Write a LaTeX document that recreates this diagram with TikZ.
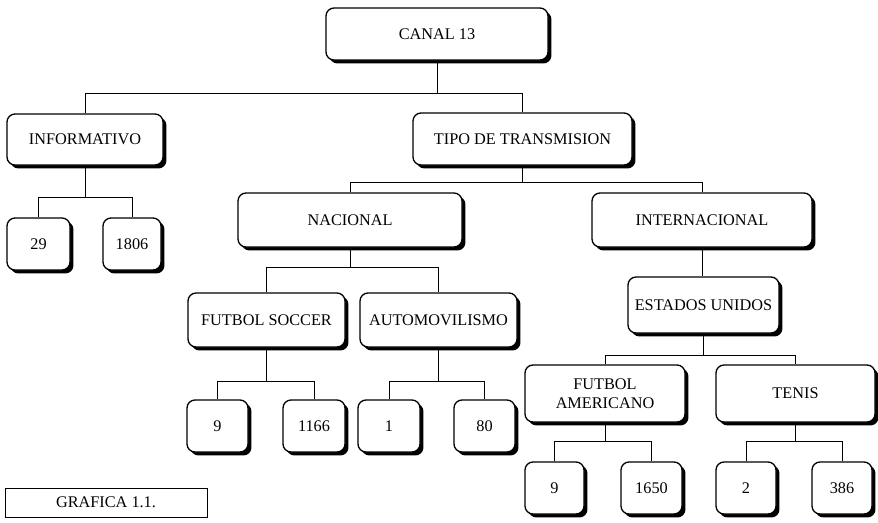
\documentclass[tikz,border=0pt]{standalone}
\usepackage{fontspec}
\setmainfont{Liberation Serif}
\usetikzlibrary{shadows}
\begin{document}
\begin{tikzpicture}[x=0.75pt,y=-0.75pt,
  box/.style={draw, line width=1pt, rounded corners=6pt, fill=white, align=center,
    inner sep=0pt, font=\fontsize{12.2}{14}\selectfont,
    drop shadow={shadow xshift=2.6pt, shadow yshift=-2.6pt, opacity=1, fill=black}},
  sz/.style 2 args={minimum width=#1*0.75pt, minimum height=#2*0.75pt},
  conn/.style={line width=0.75pt}]
\useasboundingbox (0,0) rectangle (878,522);
% level 0
\node[box, sz={222}{52}] (canal) at (437,34) {CANAL 13};
% level 1
\node[box, sz={156}{51}] (info) at (85,139.5) {INFORMATIVO};
\node[box, sz={219}{52}] (tipo) at (522.5,139) {TIPO DE TRANSMISION};
% informativo children
\node[box, sz={63}{52}] (n29) at (38.5,244) {29};
\node[box, sz={58}{52}] (n1806) at (132,244) {1806};
% tipo children
\node[box, sz={224}{54}] (nac) at (350,220) {NACIONAL};
\node[box, sz={220}{54}] (intl) at (702,220) {INTERNACIONAL};
% nacional children
\node[box, sz={157}{54}] (soc) at (266.5,320) {FUTBOL SOCCER};
\node[box, sz={157}{54}] (auto) at (438.5,320) {AUTOMOVILISMO};
% internacional child
\node[box, sz={151}{56}] (eu) at (703.5,305) {ESTADOS UNIDOS};
% estados unidos children
\node[box, sz={160}{57}] (fa) at (605,393.5) {FUTBOL\\AMERICANO};
\node[box, sz={159}{57}] (ten) at (795.5,393.5) {TENIS};
% row E
\node[box, sz={61}{52}] (s9) at (217.5,426) {9};
\node[box, sz={62}{52}] (s1166) at (314,426) {1166};
\node[box, sz={62}{52}] (a1) at (389,426) {1};
\node[box, sz={61}{52}] (a80) at (484.5,426) {80};
% row F
\node[box, sz={59}{52}] (f9) at (554.5,488) {9};
\node[box, sz={61}{52}] (f1650) at (651.5,488) {1650};
\node[box, sz={60}{52}] (t2) at (746,488) {2};
\node[box, sz={60}{52}] (t386) at (842,488) {386};
% caption
\node[draw, line width=0.75pt, sz={202}{29}, inner sep=0pt, font=\fontsize{12.2}{14}\selectfont] (graf) at (106,502.5) {GRAFICA 1.1.};
% bus levels
\coordinate (b1) at (0,93);
\coordinate (b2) at (0,197);
\coordinate (b3) at (0,182);
\coordinate (b4) at (0,267);
\coordinate (b5) at (0,355);
\coordinate (b6) at (0,381);
\coordinate (b7) at (0,441);
% connectors
\draw[conn] (canal.south) -- (canal.south |- b1);
\draw[conn] (info.north) -- (info.north |- b1) -- (tipo.north |- b1) -- (tipo.north);
\draw[conn] (info.south) -- (info.south |- b2);
\draw[conn] (n29.north) -- (n29.north |- b2) -- (n1806.north |- b2) -- (n1806.north);
\draw[conn] (tipo.south) -- (tipo.south |- b3);
\draw[conn] (nac.north) -- (nac.north |- b3) -- (intl.north |- b3) -- (intl.north);
\draw[conn] (nac.south) -- (nac.south |- b4);
\draw[conn] (soc.north) -- (soc.north |- b4) -- (auto.north |- b4) -- (auto.north);
\draw[conn] (intl.south) -- (intl.south |- eu.north);
\draw[conn] (eu.south) -- (eu.south |- b5);
\draw[conn] (fa.north) -- (fa.north |- b5) -- (ten.north |- b5) -- (ten.north);
\draw[conn] (soc.south) -- (soc.south |- b6);
\draw[conn] (s9.north) -- (s9.north |- b6) -- (s1166.north |- b6) -- (s1166.north);
\draw[conn] (auto.south) -- (auto.south |- b6);
\draw[conn] (a1.north) -- (a1.north |- b6) -- (a80.north |- b6) -- (a80.north);
\draw[conn] (fa.south) -- (fa.south |- b7);
\draw[conn] (f9.north) -- (f9.north |- b7) -- (f1650.north |- b7) -- (f1650.north);
\draw[conn] (ten.south) -- (ten.south |- b7);
\draw[conn] (t2.north) -- (t2.north |- b7) -- (t386.north |- b7) -- (t386.north);
\end{tikzpicture}
\end{document}
